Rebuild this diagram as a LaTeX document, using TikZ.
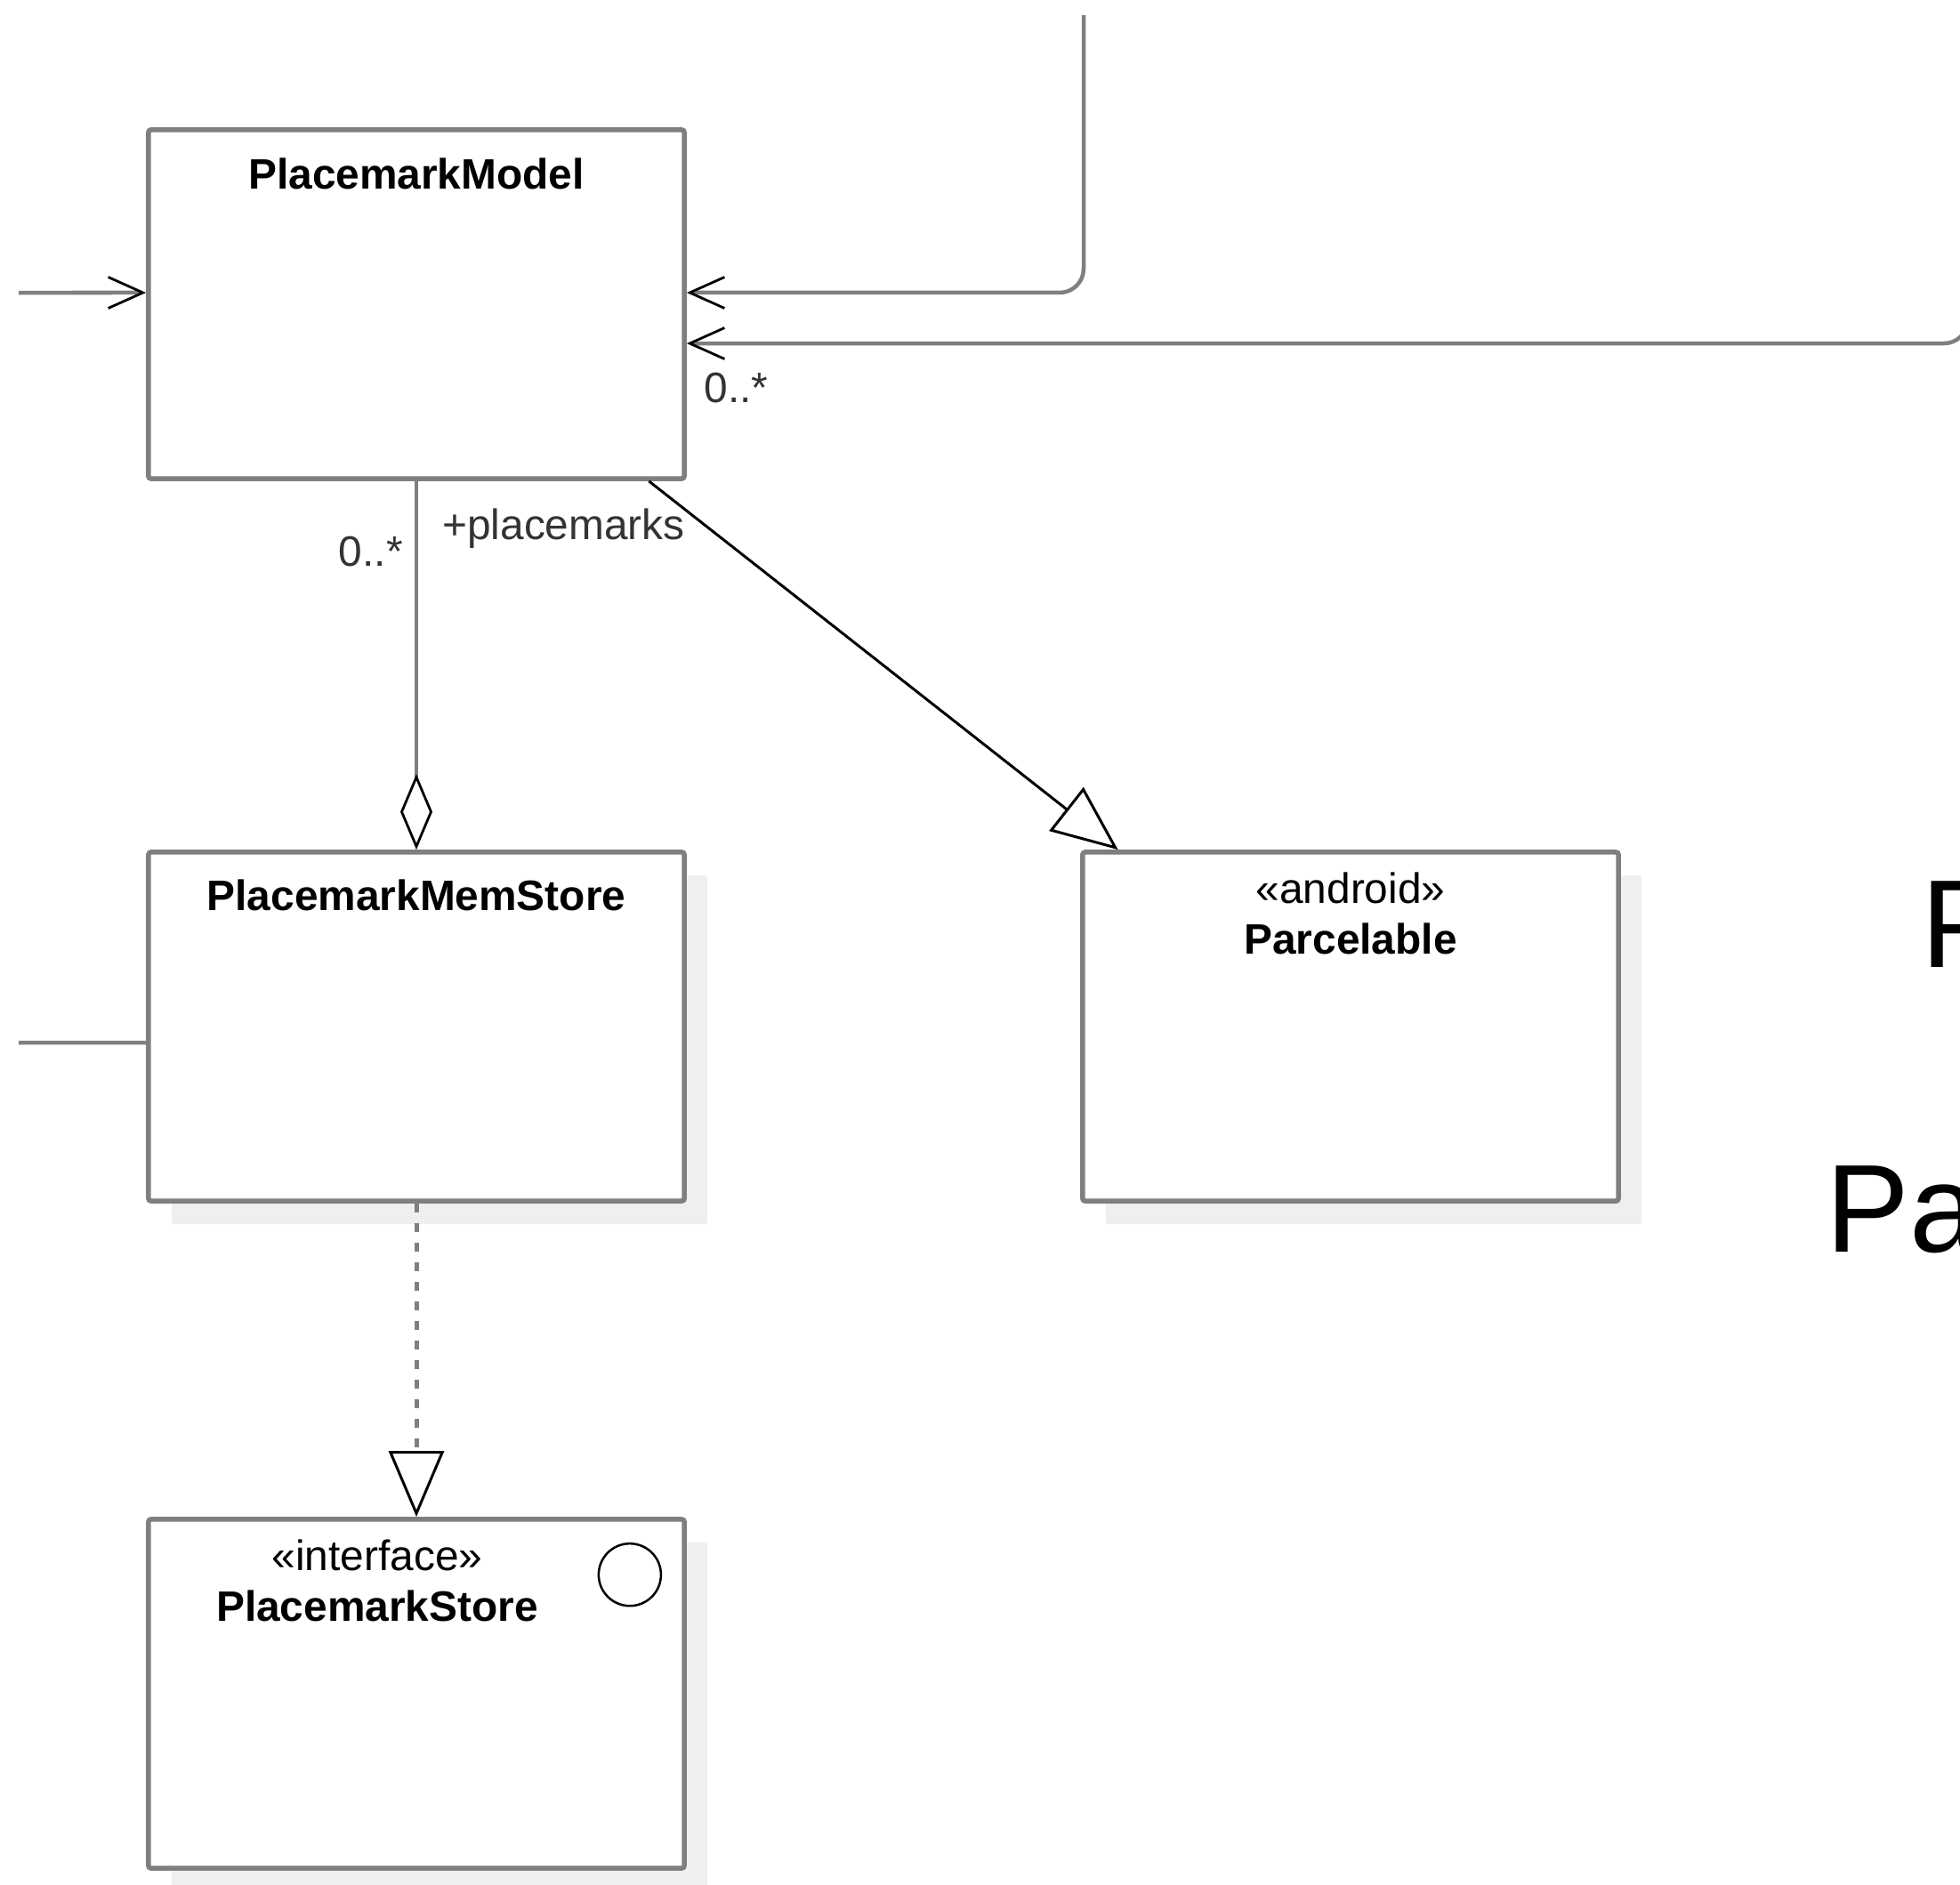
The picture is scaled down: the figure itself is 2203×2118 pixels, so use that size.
\documentclass[tikz,border=0pt]{standalone}
\usepackage{fontspec}
\setmainfont{Liberation Sans}
\usetikzlibrary{
    arrows.meta,
    calc,
    positioning,
    shadows
}
\definecolor{umlline}{HTML}{7F7F7F}
\definecolor{umlshadow}{HTML}{EFEFEF}
\newcommand{\umlfont}{\fontsize{13.6}{16}\selectfont}
\tikzset{
    classbox/.style={draw=umlline, line width=0.055cm, fill=white, rounded corners=0.03cm,
        minimum width=6.02cm, minimum height=3.92cm, inner sep=0pt},
    shadowed/.style={drop shadow={shadow xshift=0.26cm, shadow yshift=-0.26cm,
        fill=umlshadow, opacity=1}},
    classname/.style={font=\umlfont\bfseries, inner sep=0pt, anchor=base},
    stereo/.style={font=\umlfont, inner sep=0pt, anchor=base},
    lbl/.style={font=\umlfont, text=black!80, inner sep=0pt},
    conn/.style={draw=umlline, line width=0.045cm},
    navarrow/.style={conn, -{Straight Barb[length=0.39cm, width=0.35cm, line width=0.028cm 0, color=black]}},
    aggr/.style={conn, -{Diamond[length=0.85cm, width=0.36cm, line width=0.028cm 0, color=black, fill=white]}},
    gener/.style={draw=black, line width=0.03cm, -{Triangle[length=0.74cm, width=0.62cm, line width=0.03cm 0, color=black, fill=white]}},
    realize/.style={gener, draw=umlline, line width=0.05cm, dash pattern=on 0.1cm off 0.12cm},
    sidetext/.style={font=\fontsize{40}{48}\selectfont, inner sep=0pt, anchor=base west}
}

\begin{document}
\begin{tikzpicture}[x=0.01cm, y=-0.01cm]
    \useasboundingbox (0,0) rectangle (2203,2118);
    \clip (0,0) rectangle (2203,2118);
    % classes
    \node[classbox] (model) at (468,342) {};
    \node[classbox, shadowed] (memstore) at (468,1154) {};
    \node[classbox, shadowed] (parcel) at (1518,1154) {};
    \node[classbox, shadowed] (store) at (468,1904) {};
    \node[classname] (modeltitle) at ([yshift=-0.69cm]model.north) {PlacemarkModel};
    \node[classname] (memstoretitle) at ([yshift=-0.68cm]memstore.north) {PlacemarkMemStore};
    \node[stereo] (parcelstereo) at ([yshift=-0.6cm]parcel.north) {«android»};
    \node[classname] (parceltitle) at ([yshift=-1.17cm]parcel.north) {Parcelable};
    \node[stereo] (storestereo) at ([xshift=-0.44cm, yshift=-0.6cm]store.north) {«interface»};
    \node[classname] (storetitle) at ([xshift=-0.44cm, yshift=-1.17cm]store.north) {PlacemarkStore};
    \node[draw=black, line width=0.025cm, circle, minimum size=0.7cm, inner sep=0pt]
        (storeicon) at ([xshift=-0.64cm, yshift=-0.65cm]store.north east) {};
    % loose ends
    \coordinate (leftin) at (21,329);
    \coordinate (leftout) at (21,1172);
    \coordinate (topin) at (1218,17);
    \coordinate (rightin) at (2212,300);
    % associations
    \draw[navarrow] (leftin) -- ([yshift=0.13cm]model.west);
    \draw[navarrow, rounded corners=0.27cm] (topin) |- ([yshift=0.13cm]model.east);
    \draw[navarrow, rounded corners=0.27cm] (rightin) |- ([yshift=-0.44cm]model.east);
    \node[lbl, anchor=west] (multr) at ([xshift=0.19cm, yshift=-0.94cm]model.east) {0..*};
    \draw[conn] (leftout) -- ([yshift=-0.18cm]memstore.west);
    \draw[aggr] (model) -- (memstore)
        node[lbl, pos=0.19, anchor=east, xshift=-0.13cm] (multl) {0..*}
        node[lbl, pos=0.128, anchor=west, xshift=0.27cm] (role) {+placemarks};
    \draw[gener] ($(model.south west)!0.93!(model.south east)$)
        -- ($(parcel.north west)!0.07!(parcel.north east)$);
    \draw[realize] (memstore) -- (store);
    % slide text on the right
    \node[sidetext] (sideP) at (2159,1087) {P};
    \node[sidetext] (sidePa) at (2052,1407) {Pa};
\end{tikzpicture}
\end{document}
